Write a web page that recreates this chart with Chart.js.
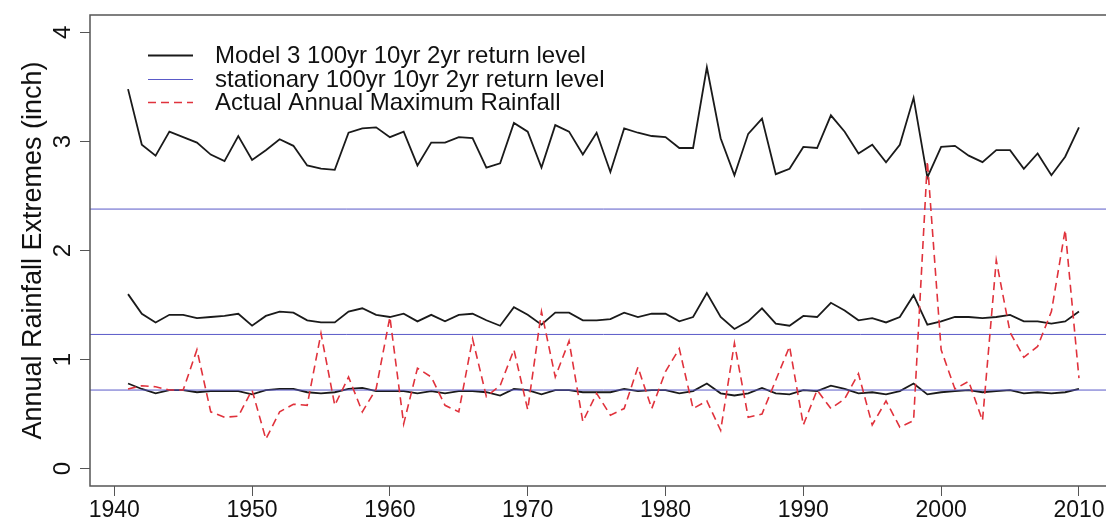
<!DOCTYPE html>
<html>
<head>
<meta charset="utf-8">
<script src="https://cdn.jsdelivr.net/npm/chart.js@4.4.1/dist/chart.umd.min.js"></script>
<style>
  html, body { margin: 0; padding: 0; background: #fff; overflow: hidden; }
  #wrap { width: 1106px; height: 523px; overflow: hidden; }
</style>
</head>
<body>
<div id="wrap"><canvas id="rainChart" width="1120" height="523"></canvas></div>
<script>
// years 1941-2010
const years = [1941,1942,1943,1944,1945,1946,1947,1948,1949,1950,
  1951,1952,1953,1954,1955,1956,1957,1958,1959,1960,
  1961,1962,1963,1964,1965,1966,1967,1968,1969,1970,
  1971,1972,1973,1974,1975,1976,1977,1978,1979,1980,
  1981,1982,1983,1984,1985,1986,1987,1988,1989,1990,
  1991,1992,1993,1994,1995,1996,1997,1998,1999,2000,
  2001,2002,2003,2004,2005,2006,2007,2008,2009,2010];

const model100 = [3.48,2.97,2.87,3.09,3.04,2.99,2.88,2.82,3.05,2.83,
  2.92,3.02,2.96,2.78,2.75,2.74,3.08,3.12,3.13,3.04,
  3.09,2.78,2.99,2.99,3.04,3.03,2.76,2.80,3.17,3.09,
  2.76,3.15,3.09,2.88,3.08,2.72,3.12,3.08,3.05,3.04,
  2.94,2.94,3.68,3.03,2.69,3.07,3.21,2.70,2.75,2.95,
  2.94,3.24,3.09,2.89,2.97,2.81,2.97,3.40,2.67,2.95,
  2.96,2.87,2.81,2.92,2.92,2.75,2.89,2.69,2.86,3.13];

const model10 = [1.60,1.42,1.34,1.41,1.41,1.38,1.39,1.40,1.42,1.31,
  1.40,1.44,1.43,1.36,1.34,1.34,1.44,1.47,1.41,1.39,
  1.42,1.35,1.41,1.35,1.41,1.42,1.36,1.31,1.48,1.41,
  1.32,1.43,1.43,1.36,1.36,1.37,1.43,1.39,1.42,1.42,
  1.35,1.39,1.61,1.39,1.28,1.35,1.47,1.33,1.31,1.40,
  1.39,1.52,1.45,1.36,1.38,1.34,1.39,1.59,1.32,1.35,
  1.39,1.39,1.38,1.39,1.41,1.35,1.35,1.33,1.35,1.44];

const model2 = [0.78,0.73,0.69,0.72,0.72,0.70,0.71,0.71,0.71,0.68,
  0.72,0.73,0.73,0.70,0.69,0.70,0.73,0.74,0.71,0.71,
  0.71,0.69,0.71,0.69,0.71,0.71,0.70,0.67,0.73,0.72,
  0.68,0.72,0.72,0.70,0.70,0.70,0.73,0.71,0.72,0.72,
  0.69,0.71,0.78,0.69,0.67,0.69,0.74,0.69,0.68,0.72,
  0.71,0.76,0.73,0.69,0.70,0.68,0.71,0.78,0.68,0.70,
  0.71,0.72,0.70,0.71,0.72,0.69,0.70,0.69,0.70,0.73];

const actual = [0.73,0.76,0.75,0.72,0.72,1.09,0.52,0.47,0.48,0.72,
  0.27,0.52,0.59,0.58,1.24,0.58,0.84,0.52,0.73,1.39,
  0.41,0.92,0.84,0.58,0.52,1.19,0.66,0.76,1.09,0.54,
  1.44,0.84,1.17,0.43,0.69,0.49,0.55,0.93,0.55,0.89,
  1.10,0.55,0.62,0.35,1.15,0.47,0.50,0.81,1.12,0.40,
  0.72,0.55,0.64,0.87,0.40,0.62,0.38,0.44,2.82,1.09,
  0.73,0.80,0.44,1.91,1.25,1.02,1.12,1.44,2.19,0.83];

// stationary 100yr, 10yr, 2yr return levels
const stationary = [2.38, 1.23, 0.72];

const xTicks = [1940,1950,1960,1970,1980,1990,2000,2010];
const yTicks = [0,1,2,3,4];
const xRange = [1938.24, 2012.76];
const yRange = [-0.16, 4.16];

const legendLabels = [
  'Model 3 100yr 10yr 2yr return level',
  'stationary 100yr 10yr 2yr return level',
  'Actual Annual Maximum Rainfall'
];

const FONT = "'Liberation Sans', Arial, sans-serif";
const BLACK = '#1a1a1a';
const BLUE = '#5a5ac8';
const RED = '#e0323c';

function pts(vals) {
  return vals.map((v, i) => ({ x: years[i], y: v }));
}

const datasets = [];
[model100, model10, model2].forEach(function (vals) {
  datasets.push({ data: pts(vals), borderColor: BLACK, borderWidth: 1.8, order: 2 });
});
stationary.forEach(function (v) {
  datasets.push({ data: [{ x: xRange[0], y: v }, { x: xRange[1], y: v }], borderColor: BLUE, borderWidth: 1, order: 1 });
});
datasets.push({ data: pts(actual), borderColor: RED, borderWidth: 1.6, borderDash: [8, 5], order: 0 });

// legend sample styles: model line, stationary line, actual dashed
const legendStyles = [
  { color: BLACK, width: 1.8, dash: [] },
  { color: BLUE, width: 1, dash: [] },
  { color: RED, width: 1.6, dash: [8, 5] }
];

const rPlot = {
  id: 'rPlot',
  afterDraw: function (chart) {
    const ctx = chart.ctx;
    const a = chart.chartArea;
    const ys = chart.scales.y;
    ctx.save();
    // box (right side falls outside the picture)
    ctx.strokeStyle = '#555';
    ctx.lineWidth = 1.5;
    ctx.beginPath();
    ctx.moveTo(chart.width, a.top);
    ctx.lineTo(a.left, a.top);
    ctx.lineTo(a.left, a.bottom);
    ctx.lineTo(chart.width, a.bottom);
    ctx.stroke();
    // rotated y tick labels
    ctx.fillStyle = '#111';
    ctx.font = '24px ' + FONT;
    ctx.textAlign = 'center';
    ctx.textBaseline = 'middle';
    yTicks.forEach(function (v) {
      ctx.save();
      ctx.translate(63, ys.getPixelForValue(v));
      ctx.rotate(-Math.PI / 2);
      ctx.fillText(String(v), 0, 0);
      ctx.restore();
    });
    // y title
    ctx.save();
    ctx.font = '27px ' + FONT;
    ctx.translate(34, (a.top + a.bottom) / 2);
    ctx.rotate(-Math.PI / 2);
    ctx.fillText('Annual Rainfall Extremes (inch)', 0, 0);
    ctx.restore();
    // legend
    ctx.font = '24px ' + FONT;
    ctx.textAlign = 'left';
    legendLabels.forEach(function (txt, i) {
      const y = Math.round(55 + i * 23.5) + 0.5;
      const s = legendStyles[i];
      ctx.beginPath();
      ctx.strokeStyle = s.color;
      ctx.lineWidth = s.width;
      ctx.setLineDash(s.dash);
      ctx.moveTo(148, y);
      ctx.lineTo(193, y);
      ctx.stroke();
      ctx.setLineDash([]);
      ctx.fillStyle = '#111';
      ctx.fillText(txt, 215, y + 1);
    });
    ctx.restore();
  }
};

new Chart(document.getElementById('rainChart').getContext('2d'), {
  type: 'line',
  data: { datasets: datasets },
  options: {
    responsive: false,
    animation: false,
    events: [],
    layout: { padding: { top: 15, right: 3, left: 0, bottom: 0 } },
    elements: { point: { radius: 0 }, line: { tension: 0, fill: false } },
    plugins: { legend: { display: false }, tooltip: { enabled: false } },
    scales: {
      x: {
        type: 'linear',
        min: xRange[0],
        max: xRange[1],
        afterBuildTicks: function (scale) { scale.ticks = xTicks.map(v => ({ value: v })); },
        afterFit: function (scale) { scale.height = 37; },
        border: { display: false },
        grid: { drawOnChartArea: false, drawTicks: true, tickLength: 10, color: '#555', lineWidth: 1 },
        ticks: { autoSkip: false, maxRotation: 0, padding: 1, color: '#111', font: { family: FONT, size: 23 }, callback: v => String(v) }
      },
      y: {
        type: 'linear',
        min: yRange[0],
        max: yRange[1],
        afterBuildTicks: function (scale) { scale.ticks = yTicks.map(v => ({ value: v })); },
        afterFit: function (scale) { scale.width = 90; },
        border: { display: false },
        grid: { drawOnChartArea: false, drawTicks: true, tickLength: 10, color: '#555', lineWidth: 1 },
        ticks: { display: false }
      }
    }
  },
  plugins: [rPlot]
});
</script>
</body>
</html>
